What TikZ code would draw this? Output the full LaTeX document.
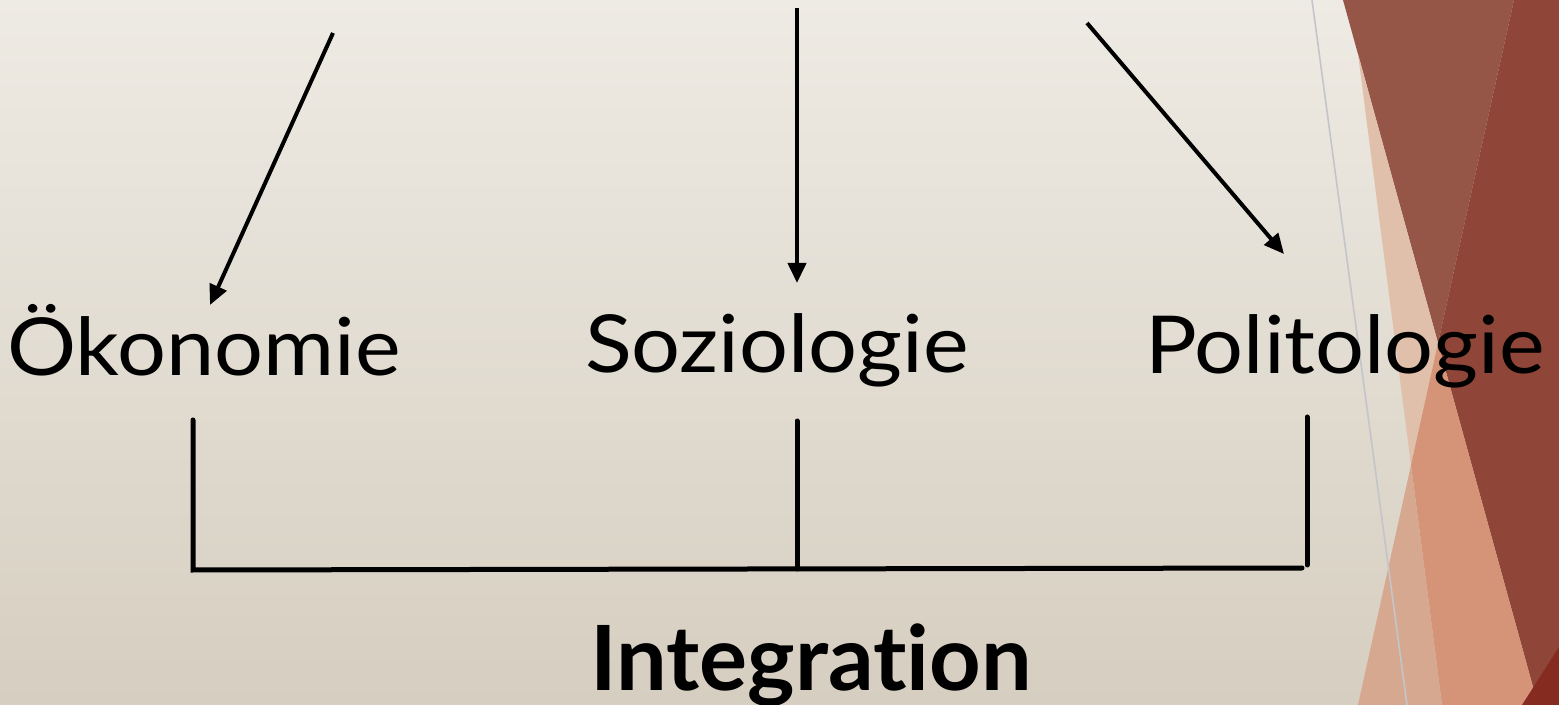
\documentclass[tikz,border=0pt]{standalone}
\usepackage{fontspec}
\setmainfont[Ligatures=NoCommon]{Lato}
\newfontfamily\fieldfont[FakeStretch=1.08,Ligatures=NoCommon]{Lato}
\usetikzlibrary{arrows.meta}
\definecolor{bgtop}{HTML}{EEEBE4}
\definecolor{bgbot}{HTML}{D6CEC0}
\definecolor{facetbrown}{HTML}{955648}
\definecolor{facetdark}{HTML}{8F4537}
\definecolor{facetpink}{HTML}{E0BFAB}
\definecolor{facetorange}{HTML}{D59478}
\definecolor{facettan}{HTML}{D6A890}
\definecolor{facetdeep}{HTML}{852B20}
\definecolor{facetline}{HTML}{C3C5CB}
\tikzset{
  fieldlabel/.style={inner sep=0pt, anchor=base, font=\fieldfont\fontsize{40}{40}\selectfont},
  mainlabel/.style={inner sep=0pt, anchor=base, font=\fontsize{45}{45}\selectfont\bfseries},
  flowarrow/.style={line width=2pt, -{Triangle[length=10pt,width=9pt]}},
  bracketline/.style={line width=2.5pt, line cap=round},
}
\begin{document}
\begin{tikzpicture}[x=0.5pt,y=-0.5pt]
\useasboundingbox (0,0) rectangle (1559,705);
% background
\shade[top color=bgtop, bottom color=bgbot] (0,0) rectangle (1559,705);
% facet decoration
\fill[facetbrown] (1343,0) -- (1514,0) -- (1438,343) -- cycle;
\fill[facetdark] (1514,0) -- (1559,0) -- (1559,705) -- (1538,705) -- (1438,343) -- cycle;
\fill[facetpink] (1358,54) -- (1438,343) -- (1411,465) -- cycle;
\fill[facetorange] (1438,343) -- (1538,705) -- (1442,705) -- (1411,465) -- cycle;
\fill[facettan] (1411,465) -- (1442,705) -- (1358,705) -- cycle;
\fill[facetdeep] (1522,705) -- (1559,647) -- (1559,705) -- cycle;
\draw[facetline, line width=0.8pt] (1312,0) -- (1407,705);
% labels
\node[fieldlabel] (oek) at (204,376) {Ökonomie};
\node[fieldlabel] (soz) at (777,373) {Soziologie};
\node[fieldlabel] (pol) at (1345,374) {Politologie};
\node[mainlabel] (int) at (811,690) {Integrat\kern0pt ion};
% arrows
\coordinate (a1s) at (333,33);  \coordinate (a1e) at (210,305);
\coordinate (a2s) at (797,8);   \coordinate (a2e) at (797,283);
\coordinate (a3s) at (1087,23); \coordinate (a3e) at (1284,254);
\draw[flowarrow] (a1s) -- (a1e);
\draw[flowarrow] (a2s) -- (a2e);
\draw[flowarrow] (a3s) -- (a3e);
% bracket
\coordinate (b1t) at (193,420);  \coordinate (b1b) at (193,570);
\coordinate (b2t) at (797,421);  \coordinate (b2b) at (797,569);
\coordinate (b3t) at (1307,417); \coordinate (b3b) at (1307,565);
\coordinate (b3j) at (1302,568);
\draw[bracketline] (b1t) -- (b1b) -- (b3j);
\draw[bracketline] (b2t) -- (b2b);
\draw[bracketline] (b3t) -- (b3b);
\end{tikzpicture}
\end{document}
